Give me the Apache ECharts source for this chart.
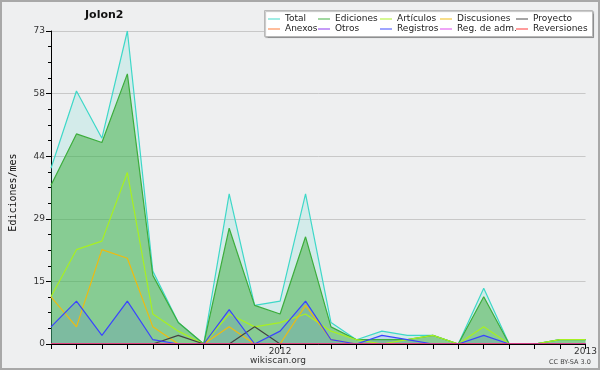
<!DOCTYPE html>
<html>
<head>
<meta charset="utf-8">
<script src="https://cdn.jsdelivr.net/npm/echarts@6/dist/echarts.min.js"></script>
<style>
  html, body { margin: 0; padding: 0; background: #eeeff0; }
  #chart { width: 600px; height: 370px; }
</style>
</head>
<body>
<div id="chart"></div>
<script>
// meses abr 2011 .. ene 2013
var meses = ['2011-04','2011-05','2011-06','2011-07','2011-08','2011-09','2011-10','2011-11','2011-12',
  '2012-01','2012-02','2012-03','2012-04','2012-05','2012-06','2012-07','2012-08','2012-09','2012-10','2012-11','2012-12','2013-01'];
var etiquetasX = {'2012-01': '2012', '2013-01': '2013'};

var total       = [41, 59, 48, 73, 17, 5, 0, 35, 9, 10, 35, 5, 1, 3, 2, 2, 0, 13, 0, 0, 1, 1];
var ediciones   = [37, 49, 47, 63, 16, 5, 0, 27, 9, 7, 25, 4, 1, 1, 1, 2, 0, 11, 0, 0, 1, 1];
var articulos   = [11, 22, 24, 40, 7, 3, 0, 7, 4, 5, 7, 3, 1, 0, 1, 2, 0, 4, 0, 0, 1, 1];
var discusiones = [11, 4, 22, 20, 4, 0, 0, 4, 0, 0, 9, 1, 0, 0, 0, 0, 0, 0, 0, 0, 0, 0];
var proyecto    = [0, 0, 0, 0, 0, 2, 0, 0, 4, 0, 0, 0, 0, 0, 0, 0, 0, 0, 0, 0, 0, 0];
var anexos      = [0, 0, 0, 0, 0, 0, 0, 0, 0, 0, 0, 0, 0, 0, 0, 0, 0, 0, 0, 0, 0, 0];
var otros       = [0, 0, 0, 0, 0, 0, 0, 0, 0, 0, 0, 0, 0, 0, 0, 0, 0, 0, 0, 0, 0, 0];
var registros   = [4, 10, 2, 10, 1, 0, 0, 8, 0, 3, 10, 1, 0, 2, 1, 0, 0, 2, 0, 0, 0, 0];
var regAdm      = [0, 0, 0, 0, 0, 0, 0, 0, 0, 0, 0, 0, 0, 0, 0, 0, 0, 0, 0, 0, 0, 0];
var reversiones = [0, 0, 0, 0, 0, 0, 0, 0, 0, 0, 0, 0, 0, 0, 0, 0, 0, 0, 0, 0, 0, 0];

var yMax = 73;

var chart = echarts.init(document.getElementById('chart'));

function serie(nombre, datos, color, area){
  var s = {
    name: nombre, type: 'line', data: datos, showSymbol: false, symbol: 'none',
    lineStyle: {color: color, width: 1.2}, itemStyle: {color: color}
  };
  if(area) s.areaStyle = {color: color, opacity: area};
  return s;
}

// leyenda: una por cada elemento para alinear columnas
var posLeyenda = [
  ['Total', 268, 14], ['Ediciones', 318, 14], ['Artículos', 380, 14], ['Discusiones', 440, 14], ['Proyecto', 516, 14],
  ['Anexos', 268, 24], ['Otros', 318, 24], ['Registros', 380, 24], ['Reg. de adm.', 440, 24], ['Reversiones', 516, 24]
];
var leyendas = posLeyenda.map(function(p){
  return {
    data: [p[0]], left: p[1], top: p[2], padding: 0, z: 10,
    icon: 'rect', itemWidth: 12, itemHeight: 1.3, selectedMode: false,
    itemStyle: {opacity: 0.75},
    textStyle: {fontSize: 9, lineHeight: 10, fontFamily: 'DejaVu Sans', color: '#222'}
  };
});

var option = {
  backgroundColor: '#eeeff0',
  animation: false,
  title: {
    text: 'Jolon2', left: 85, top: 10, padding: 0,
    textStyle: {fontSize: 11, fontWeight: 'bold', fontFamily: 'DejaVu Sans', color: '#111'}
  },
  legend: leyendas,
  graphic: [
    {type: 'rect', z: 0, shape: {x: 1, y: 1, width: 598, height: 368},
     style: {fill: 'none', stroke: '#a8a8a8', lineWidth: 2}},
    {type: 'rect', z: 1, shape: {x: 264.5, y: 10.5, width: 328, height: 26},
     style: {fill: '#ffffff', stroke: '#b8b8b8', lineWidth: 1, shadowColor: 'rgba(0,0,0,0.25)', shadowOffsetX: 1, shadowOffsetY: 1, shadowBlur: 1}},
    {type: 'text', x: 278, y: 361, style: {text: 'wikiscan.org', fontSize: 9, fontFamily: 'DejaVu Sans', fill: '#333', align: 'center', verticalAlign: 'middle'}},
    {type: 'text', x: 570, y: 362, style: {text: 'CC BY-SA 3.0', fontSize: 6.5, fontFamily: 'DejaVu Sans', fill: '#444', align: 'center', verticalAlign: 'middle'}}
  ],
  grid: {left: 46.5, right: 11, top: 31, bottom: 26, containLabel: false},
  xAxis: {
    type: 'category', data: meses, boundaryGap: false, z: 10,
    axisLine: {lineStyle: {color: '#000', width: 1}},
    axisTick: {interval: 0, length: 5, lineStyle: {color: '#000'}},
    axisLabel: {
      interval: 0, margin: 3, fontSize: 9, fontFamily: 'DejaVu Sans', color: '#333',
      formatter: function(v){ return etiquetasX[v] || ''; }
    },
    splitLine: {show: false}
  },
  yAxis: {
    type: 'value', min: 0, max: yMax, interval: yMax / 5,
    name: 'Ediciones/mes', nameLocation: 'middle', nameGap: 33,
    nameTextStyle: {fontSize: 10, fontFamily: 'DejaVu Sans Mono', color: '#111', padding: [0, 0, 0, -10]},
    axisLine: {show: true, lineStyle: {color: '#000', width: 1}},
    axisTick: {show: true, length: 5, lineStyle: {color: '#000'}},
    minorTick: {show: true, splitNumber: 4, length: 3, lineStyle: {color: '#000'}},
    axisLabel: {margin: 6, fontSize: 9, fontFamily: 'DejaVu Sans', color: '#333',
      formatter: function(v){ return Math.round(v); }},
    splitLine: {lineStyle: {color: '#c8c8c8', width: 1}}
  },
  series: [
    serie('Total', total, '#3ed8c8', 0.15),
    serie('Ediciones', ediciones, '#3cad3c', 0.5),
    serie('Artículos', articulos, '#a8f020', 0),
    serie('Discusiones', discusiones, '#eebb10', 0),
    serie('Proyecto', proyecto, '#444444', 0),
    serie('Anexos', anexos, '#ff7733', 0),
    serie('Otros', otros, '#8833ee', 0),
    serie('Registros', registros, '#3a44ff', 0.12),
    serie('Reg. de adm.', regAdm, '#dd44ee', 0),
    serie('Reversiones', reversiones, '#ff3333', 0)
  ]
};
chart.setOption(option);
</script>
</body>
</html>
